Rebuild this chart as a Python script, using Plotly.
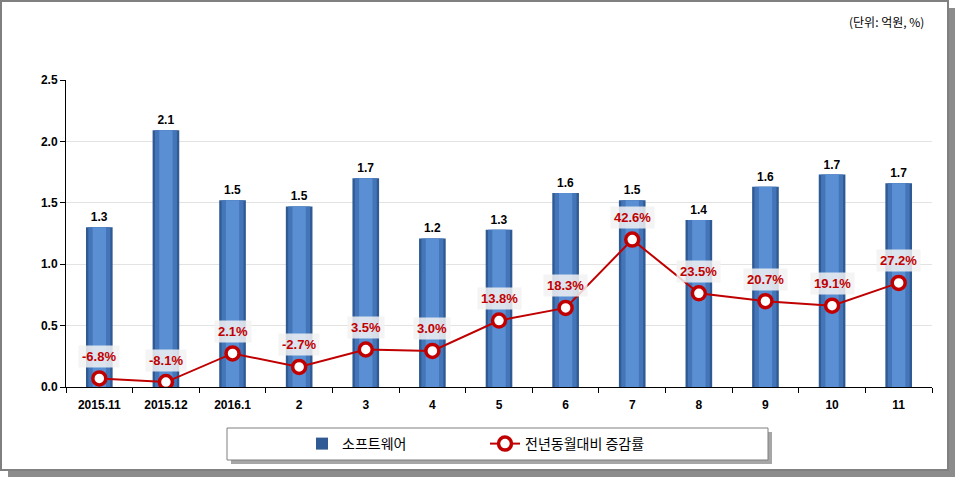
import plotly.graph_objects as go

categories = ["2015.11", "2015.12", "2016.1", "2", "3", "4", "5", "6", "7", "8", "9", "10", "11"]
software = [1.30, 2.09, 1.52, 1.47, 1.70, 1.21, 1.28, 1.58, 1.52, 1.36, 1.63, 1.73, 1.66]
growth = [-6.8, -8.1, 2.1, -2.7, 3.5, 3.0, 13.8, 18.3, 42.6, 23.5, 20.7, 19.1, 27.2]
y_ticks = [0.0, 0.5, 1.0, 1.5, 2.0, 2.5]

W, H = 960, 482
ML, MR, MT, MB = 66, 28, 80, 95
PW, PH = W - ML - MR, H - MT - MB


def px(x):
    return (x - ML) / PW


def py(y):
    return (H - MB - y) / PH


fig = go.Figure()

# bar layers (cylinder look)
fig.add_trace(go.Bar(x=categories, y=software, width=0.40, name="소프트웨어",
                     marker=dict(color="#2f5a93", line=dict(width=0)),
                     text=[f"{v:.1f}" for v in software], textposition="outside",
                     textfont=dict(family="Liberation Sans", size=12, color="#000000", weight="bold"),
                     cliponaxis=False, showlegend=True, hoverinfo="skip"))
fig.add_trace(go.Bar(x=categories, y=software, width=0.33, showlegend=False,
                     marker=dict(color="#4375b8", line=dict(width=0)), hoverinfo="skip"))
fig.add_trace(go.Bar(x=categories, y=software, width=0.20, showlegend=False,
                     marker=dict(color="#5a8fd3", line=dict(width=0)), hoverinfo="skip"))

fig.add_trace(go.Scatter(x=categories, y=growth, yaxis="y2", mode="lines+markers",
                         name="전년동월대비 증감률",
                         line=dict(color="#c00000", width=2),
                         marker=dict(symbol="circle", size=13, color="#ffffff",
                                     line=dict(color="#c00000", width=3.5)),
                         hoverinfo="skip"))

annotations = []
for i, g in enumerate(growth):
    annotations.append(dict(x=i, y=g, xref="x", yref="y2", text=f"{g:.1f}%",
                            showarrow=False, yshift=22,
                            font=dict(family="Liberation Sans", size=13, color="#c00000", weight="bold"),
                            bgcolor="rgba(242,242,242,0.85)", borderpad=3))
annotations.append(dict(x=px(926), y=py(22), xref="paper", yref="paper", xanchor="right",
                        yanchor="middle", text="(단위: 억원, %)", showarrow=False,
                        font=dict(family="Noto Sans CJK KR", size=12, color="#000000")))

shapes = [
    # outer frame shadow
    dict(type="rect", xref="paper", yref="paper", x0=px(8), x1=px(955), y0=py(8), y1=py(477),
         fillcolor="#8c8c8c", line=dict(width=0), layer="below"),
    dict(type="rect", xref="paper", yref="paper", x0=px(1), x1=px(948), y0=py(1), y1=py(470),
         fillcolor="#ffffff", line=dict(color="#808080", width=2), layer="below"),
    # legend box shadow + box
    dict(type="rect", xref="paper", yref="paper", x0=px(231), x1=px(772), y0=py(432), y1=py(464),
         fillcolor="#a6a6a6", line=dict(width=0), layer="below"),
    dict(type="rect", xref="paper", yref="paper", x0=px(227), x1=px(768), y0=py(428), y1=py(460),
         fillcolor="#ffffff", line=dict(color="#7f7f7f", width=1), layer="below"),
]

fig.update_layout(
    width=W, height=H,
    margin=dict(l=ML, r=MR, t=MT, b=MB),
    paper_bgcolor="#ffffff", plot_bgcolor="rgba(0,0,0,0)",
    barmode="overlay", bargap=0.6,
    font=dict(family="Liberation Sans", size=11, color="#000000"),
    xaxis=dict(type="category", showline=True, linecolor="#000000", linewidth=1,
               range=[-0.5, len(categories) - 0.5],
               ticks="outside", tickson="boundaries", ticklen=5, tickcolor="#000000",
               ticklabelstandoff=7,
               tickfont=dict(family="Liberation Sans", size=12, weight="bold"),
               tickangle=0, showgrid=False, zeroline=False),
    yaxis=dict(range=[0, 2.5], tickvals=y_ticks, tickformat=".1f",
               showline=True, linecolor="#000000", linewidth=1,
               ticks="outside", ticklen=5, tickcolor="#000000",
               tickfont=dict(family="Liberation Sans", size=12, weight="bold"),
               showgrid=True, gridcolor="#e3e3e3", gridwidth=1, zeroline=False),
    yaxis2=dict(range=[-9.85, 99.4], overlaying="y", side="right", visible=False,
                showgrid=False, zeroline=False),
    legend=dict(orientation="h", x=px(302), xanchor="left", y=py(444), yanchor="middle",
                bgcolor="rgba(0,0,0,0)", entrywidth=138, entrywidthmode="pixels",
                font=dict(family="Noto Sans CJK KR", size=14, color="#000000"),
                traceorder="normal"),
    shapes=shapes,
    annotations=annotations,
)

fig.write_html("out.html")
